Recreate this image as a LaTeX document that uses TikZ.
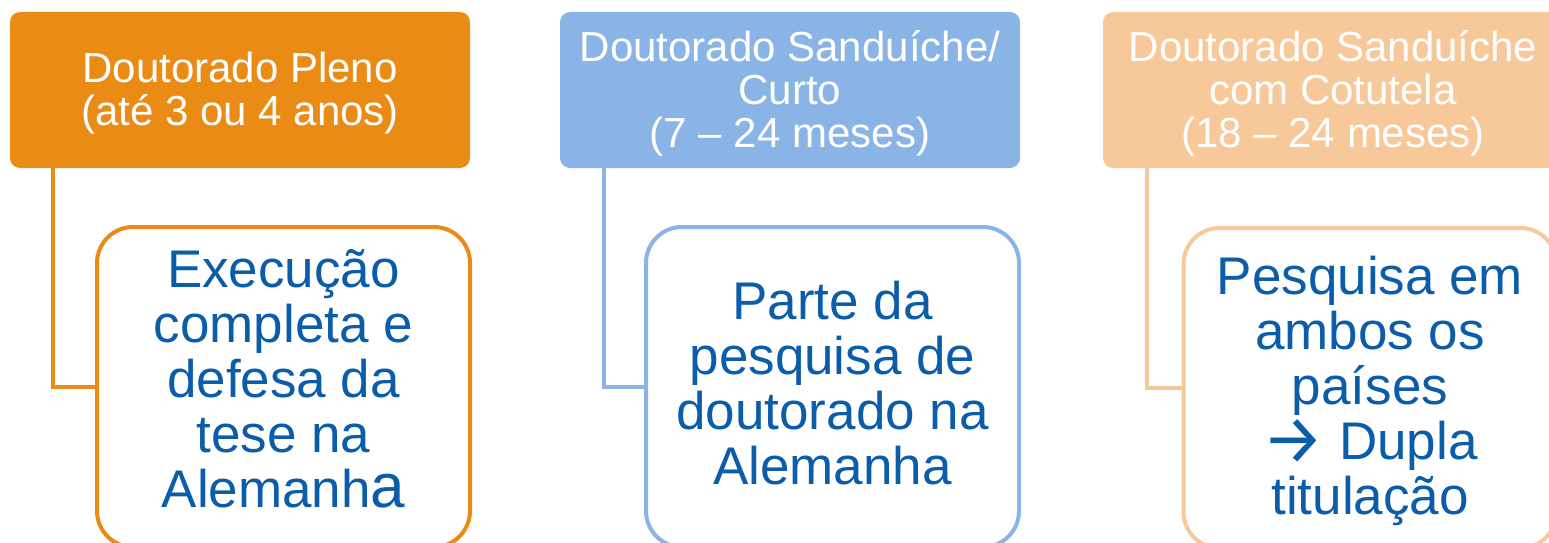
\documentclass[tikz,border=0pt]{standalone}
\usepackage{fontspec}
\setmainfont{Liberation Sans}
\newfontfamily\arrowfont{Fira Sans}
\definecolor{plenoc}{RGB}{233,139,21}
\definecolor{curtoc}{RGB}{138,180,229}
\definecolor{cotutc}{RGB}{247,201,154}
\definecolor{txtblue}{RGB}{11,93,170}
\begin{document}
\begin{tikzpicture}[x=1pt, y=-1pt,
    head/.style={rounded corners=10pt, minimum width=460pt, minimum height=156pt, inner sep=0pt},
    headtext/.style={align=center, text=white, inner sep=0pt, font=\fontsize{42}{43}\selectfont},
    body/.style={draw, line width=4pt, rounded corners=36pt, fill=white,
      minimum width=373pt, minimum height=320pt, inner sep=0pt},
    bodytext/.style={align=center, text=txtblue, inner sep=0pt, font=\fontsize{53}{55}\selectfont},
    link/.style={line width=4pt}]
    \clip (0, 0) rectangle (1549, 543);

    % headers
    \node[head, fill=plenoc] (head1) at (240, 90) {};
    \node[head, fill=curtoc] (head2) at (790, 90) {};
    \node[head, fill=cotutc] (head3) at (1333, 90) {};
    \node[headtext] (hd1) at ([yshift=-3pt]head1.center) {Doutorado Pleno\\(até 3 ou 4 anos)};
    \node[headtext] (hd2) at ([yshift=-3pt]head2.center) {Doutorado Sanduíche/\\Curto\\(7 – 24 meses)};
    \node[headtext] (hd3) at ([yshift=-3pt]head3.center) {Doutorado Sanduíche\\com Cotutela\\(18 – 24 meses)};

    % boxes below
    \node[body, draw=plenoc] (body1) at (283.5, 387) {};
    \node[body, draw=curtoc] (body2) at (832.5, 387) {};
    \node[body, draw=cotutc] (body3) at (1370, 388) {};
    \node[bodytext] (txt1) at ([yshift=8pt]body1.center)
      {Execução\\completa e\\defesa da\\tese na\\Alemanh{\fontsize{62}{55}\selectfont a}};
    \node[bodytext] (txt2) at ([yshift=4pt]body2.center)
      {Parte da\\pesquisa de\\doutorado na\\Alemanha};
    \node[bodytext] (txt3) at ([yshift=-3pt]body3.center)
      {Pesquisa em\\ambos os\\países\\{\arrowfont\smash{\raisebox{-4pt}{\scalebox{1.3}{→}}}} Dupla\\titulação};

    \draw[link, plenoc] ([xshift=43pt]head1.south west) |- (body1.west);
    \draw[link, curtoc] ([xshift=44pt]head2.south west) |- (body2.west);
    \draw[link, cotutc] ([xshift=44pt]head3.south west) |- (body3.west);
  \end{tikzpicture}
\end{document}
